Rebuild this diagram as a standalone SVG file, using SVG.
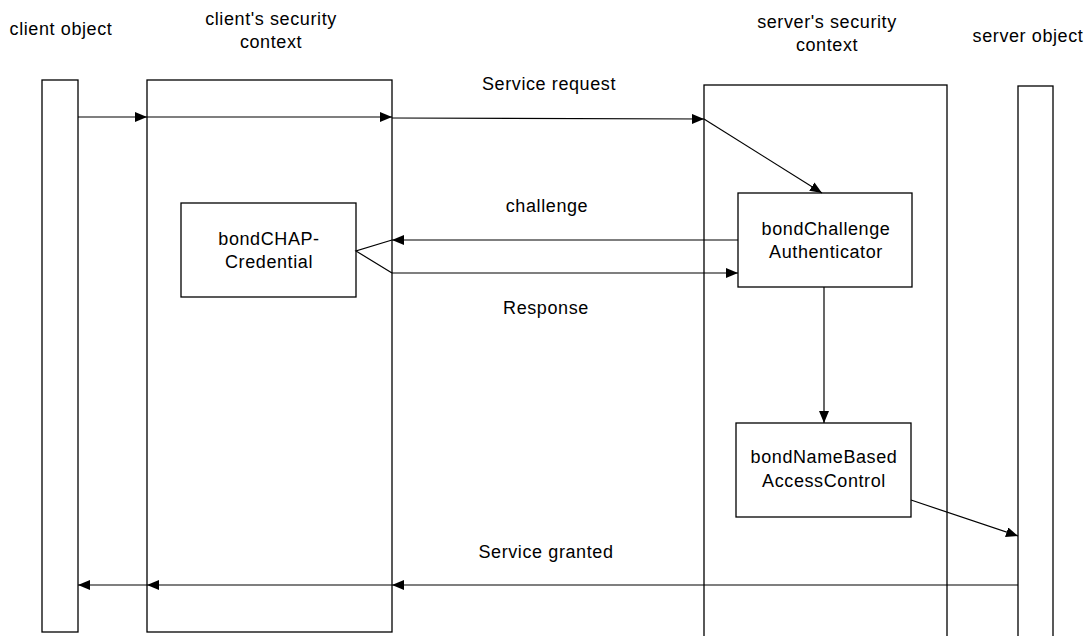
<svg xmlns="http://www.w3.org/2000/svg" width="1087" height="636" viewBox="0 0 1087 636">
<defs>
<marker id="ah" viewBox="0 0 12 10" refX="12" refY="5" markerWidth="12" markerHeight="10" markerUnits="userSpaceOnUse" orient="auto">
<path d="M0,0 L12,5 L0,10 Z" fill="#000"/>
</marker>
<style>
.t{font-family:"Liberation Sans",Arial,sans-serif;font-size:18px;fill:#000;text-anchor:middle;letter-spacing:0.6px}
.b{fill:#fff;stroke:#000;stroke-width:1.3}
.c{fill:none;stroke:#000;stroke-width:1.2}
.a{marker-end:url(#ah)}
</style>
</defs>
<rect width="1087" height="636" fill="#fff"/>
<g id="client-object">
<rect class="b" x="42" y="80" width="36" height="552"/>
<text class="t" x="61" y="35">client object</text>
</g>
<g id="client-context">
<rect class="b" x="147" y="80" width="245" height="552"/>
<text class="t" x="271" y="25">client's security</text>
<text class="t" x="271" y="48">context</text>
</g>
<g id="server-context">
<rect class="b" x="704" y="85" width="243" height="560"/>
<text class="t" x="827" y="28">server's security</text>
<text class="t" x="827" y="51">context</text>
</g>
<g id="server-object">
<rect class="b" x="1018" y="86" width="35" height="560"/>
<text class="t" x="1028" y="42">server object</text>
</g>
<g id="bondCHAP-Credential">
<rect class="b" x="181" y="203" width="175" height="94"/>
<text class="t" x="269" y="245">bondCHAP-</text>
<text class="t" x="269" y="268">Credential</text>
</g>
<g id="bondChallengeAuthenticator">
<rect class="b" x="738" y="193" width="174" height="94"/>
<text class="t" x="826" y="235">bondChallenge</text>
<text class="t" x="826" y="258">Authenticator</text>
</g>
<g id="bondNameBasedAccessControl">
<rect class="b" x="736" y="423" width="175" height="94"/>
<text class="t" x="824" y="463">bondNameBased</text>
<text class="t" x="824" y="487">AccessControl</text>
</g>
<g id="connectors">
<line class="c a" x1="78" y1="117" x2="147" y2="117"/>
<line class="c a" x1="147" y1="117" x2="392" y2="117"/>
<line class="c a" x1="392" y1="118" x2="704" y2="119"/>
<line class="c a" x1="704" y1="119" x2="822" y2="193"/>
<line class="c a" x1="738" y1="240" x2="392" y2="240"/>
<polyline class="c" points="392,240 356,251 392,273"/>
<line class="c a" x1="392" y1="273" x2="738" y2="273"/>
<line class="c a" x1="824" y1="287" x2="824" y2="423"/>
<line class="c a" x1="911" y1="500" x2="1018" y2="536"/>
<line class="c a" x1="1018" y1="585" x2="392" y2="585"/>
<line class="c a" x1="392" y1="585" x2="147" y2="585"/>
<line class="c a" x1="147" y1="585" x2="78" y2="585"/>
<text class="t" x="549" y="90">Service request</text>
<text class="t" x="547" y="212">challenge</text>
<text class="t" x="546" y="314">Response</text>
<text class="t" x="546" y="558">Service granted</text>
</g>
</svg>
